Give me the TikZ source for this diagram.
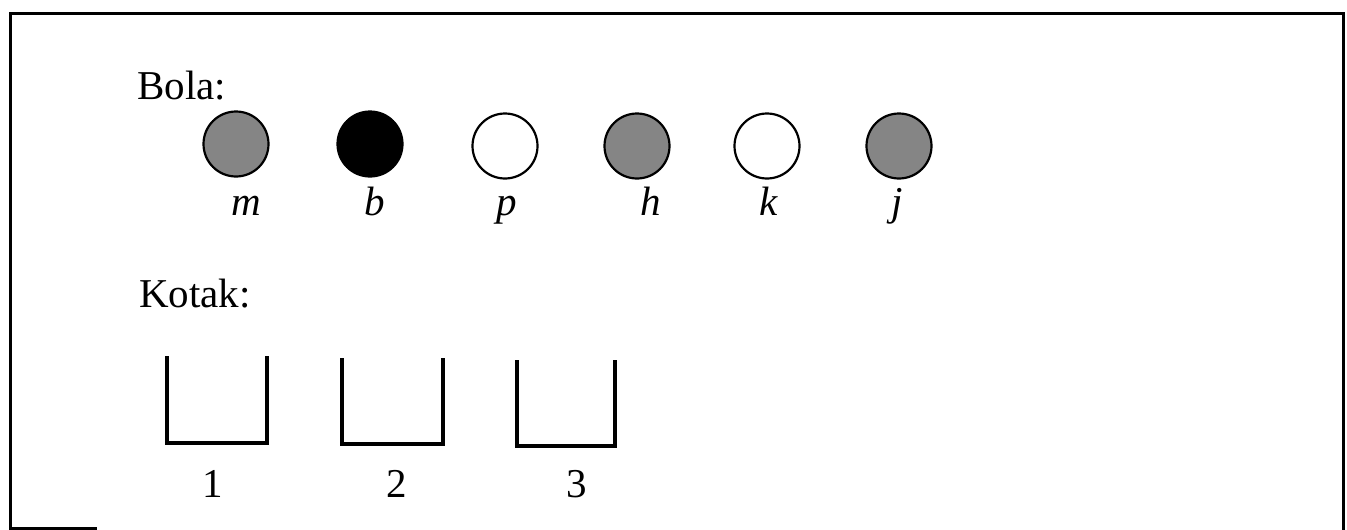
\documentclass[tikz,border=0pt]{standalone}
\usepackage{fontspec}
\setmainfont{Liberation Serif}
\begin{document}
\begin{tikzpicture}[x=1pt,y=-1pt,
  lbl/.style={font=\fontsize{41}{48}\selectfont, inner sep=0pt, anchor=base},
  head/.style={font=\fontsize{41}{48}\selectfont, inner sep=0pt, anchor=base west},
  ball/.style={circle, draw=black, line width=2.2pt, minimum size=65pt, inner sep=0pt},
  grayball/.style={ball, fill=black!48},
  blackball/.style={ball, fill=black},
  whiteball/.style={ball, fill=white},
  frame/.style={line width=3pt, line cap=rect},
  kotakbox/.style={line width=3.2pt, line cap=rect, line join=miter}]
\useasboundingbox (0,0) rectangle (1347,530);
% frame
\draw[frame] (10,528) -- (10,13) -- (1343,13) -- (1343,530);
\draw[frame] (10,528.5) -- (95,528.5);
% headings
\node[head] (bola) at (137,99) {Bola:};
\node[head] (kotak) at (139,307) {Kotak:};
% balls
\node[grayball]  (m) at (236,144) {};
\node[blackball] (b) at (370,144) {};
\node[whiteball] (p) at (505,146) {};
\node[grayball]  (h) at (637,146) {};
\node[whiteball] (k) at (767,146) {};
\node[grayball]  (j) at (899,146) {};
% ball labels
\node[lbl] (lm) at (246,215) {\itshape m};
\node[lbl] (lb) at (375,215) {\itshape b};
\node[lbl] (lp) at (507,215) {\itshape p};
\node[lbl] (lh) at (651,215) {\itshape h};
\node[lbl] (lk) at (769,215) {\itshape k};
\node[lbl] (lj) at (897,215) {\itshape j};
% boxes
\draw[kotakbox] (167,358) -- (167,443) -- (267,443) -- (267,358);
\draw[kotakbox] (342,360) -- (342,444) -- (443,444) -- (443,360);
\draw[kotakbox] (517,362) -- (517,446) -- (615,446) -- (615,362);
% box labels
\node[lbl] (n1) at (213,497) {1};
\node[lbl] (n2) at (397,497) {2};
\node[lbl] (n3) at (577,497) {3};
\end{tikzpicture}
\end{document}
